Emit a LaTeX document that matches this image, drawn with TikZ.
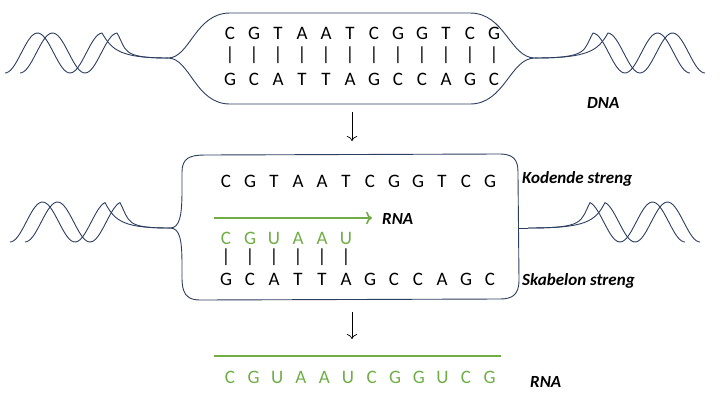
\documentclass[tikz,border=0pt]{standalone}
\usepackage{fontspec}
\setmainfont{Carlito}
\usetikzlibrary{arrows.meta}
\definecolor{navy}{HTML}{2C3E60}
\definecolor{rnagreen}{HTML}{70AD47}
\tikzset{
  base/.style={font=\fontsize{19}{19}\selectfont, inner sep=0pt, anchor=center},
  lbl/.style={font=\fontsize{17}{17}\selectfont\bfseries\itshape, inner sep=0pt, anchor=west},
  strand/.style={line width=0.9pt, navy},
  flow/.style={-{To[length=5pt]}, line width=0.7pt}
}
\begin{document}
\begin{tikzpicture}[x=1pt,y=-1pt]
\path [use as bounding box] (0,0) rectangle (720,405);

% DNA
\draw [strand] (168,58) .. controls (190,58) and (195,13) .. (230,13) -- (470,13)
  .. controls (505,13) and (510,58) .. (535,58)
  .. controls (510,58) and (505,104) .. (470,104) -- (230,104)
  .. controls (195,104) and (190,58) .. cycle;
\foreach \off in {0,15}{
  \draw [strand] plot[domain=5:102, samples=50, smooth] ({\x+\off},{53+20*cos((\x-5)/65*360)})
    .. controls (112+\off,50) and (120,58) .. (168,58);
  \draw [strand] plot[domain=5:102, samples=50, smooth] ({710-\x-\off},{53+20*cos((\x-5)/65*360)})
    .. controls (598-\off,50) and (590,58) .. (535,58);
}
\foreach \t [count=\i from 0] in {C,G,T,A,A,T,C,G,G,T,C,G}{
  \node [base] (top\i) at (230+\i*24,33) {\t};
  \node [base] at (230+\i*24,55) {\textbar};
}
\foreach \t [count=\i from 0] in {G,C,A,T,T,A,G,C,C,A,G,C}{
  \node [base] (bot\i) at (230+\i*24,79) {\t};
}
\node [lbl] (dna) at (587,103) {DNA};

% TRANSKRIPTION
\coordinate (a1) at (352,112);
\coordinate (a2) at (352,141);
\draw [flow] (a1) -- (a2);

\draw [strand] (205,155) -- (500,154) .. controls (518,154) and (518,165) .. (518,175)
  -- (519,280) .. controls (519,295) and (512,299) .. (500,299) -- (200,300)
  .. controls (180,300) and (182,285) .. (182,265) .. controls (182,240) and (180,228) .. (170,228)
  .. controls (180,228) and (182,215) .. (182,190) -- (182,172) .. controls (182,158) and (190,155) .. (205,155);
\foreach \off in {0,15}{
  \draw [strand] plot[domain=10:105, samples=50, smooth] ({\x+\off},{222+20*cos((\x-10)/65*360)})
    .. controls (115+\off,222) and (125,228) .. (170,228);
  \draw [strand] plot[domain=10:105, samples=50, smooth] ({710-\x-\off},{222+20*cos((\x-10)/65*360)})
    .. controls (595-\off,222) and (585,228) .. (528,228);
}
\draw [strand] (519,228) -- (528,228);
\foreach \t [count=\i from 0] in {C,G,T,A,A,T,C,G,G,T,C,G}{
  \node [base] (kod\i) at (226+\i*24,181) {\t};
}
\foreach \t [count=\i from 0] in {C,G,U,A,A,U}{
  \node [base, rnagreen] (nyt\i) at (226+\i*24,238) {\t};
  \node [base] at (226+\i*24,257) {\textbar};
}
\foreach \t [count=\i from 0] in {G,C,A,T,T,A,G,C,C,A,G,C}{
  \node [base] (skab\i) at (226+\i*24,279) {\t};
}
\coordinate (g1) at (214,218);
\coordinate (g2) at (372,218);
\draw [rnagreen, line width=1.6pt, -{To[length=6pt]}] (g1) -- (g2);
\node [lbl] (rnamid) at (382,219) {RNA};
\node [lbl] (kod) at (522,179) {Kodende streng};
\node [lbl] (skab) at (522,281) {Skabelon streng};

% RNA
\coordinate (b1) at (352,312);
\coordinate (b2) at (352,339);
\draw [flow] (b1) -- (b2);
\coordinate (r1) at (214,356);
\coordinate (r2) at (501,356);
\draw [rnagreen, line width=1.6pt] (r1) -- (r2);
\foreach \t [count=\i from 0] in {C,G,U,A,A,U,C,G,G,U,C,G}{
  \node [base, rnagreen] (rna\i) at (230+\i*23.6,377) {\t};
}
\node [lbl] (rnaend) at (530,382) {RNA};
\end{tikzpicture}
\end{document}
